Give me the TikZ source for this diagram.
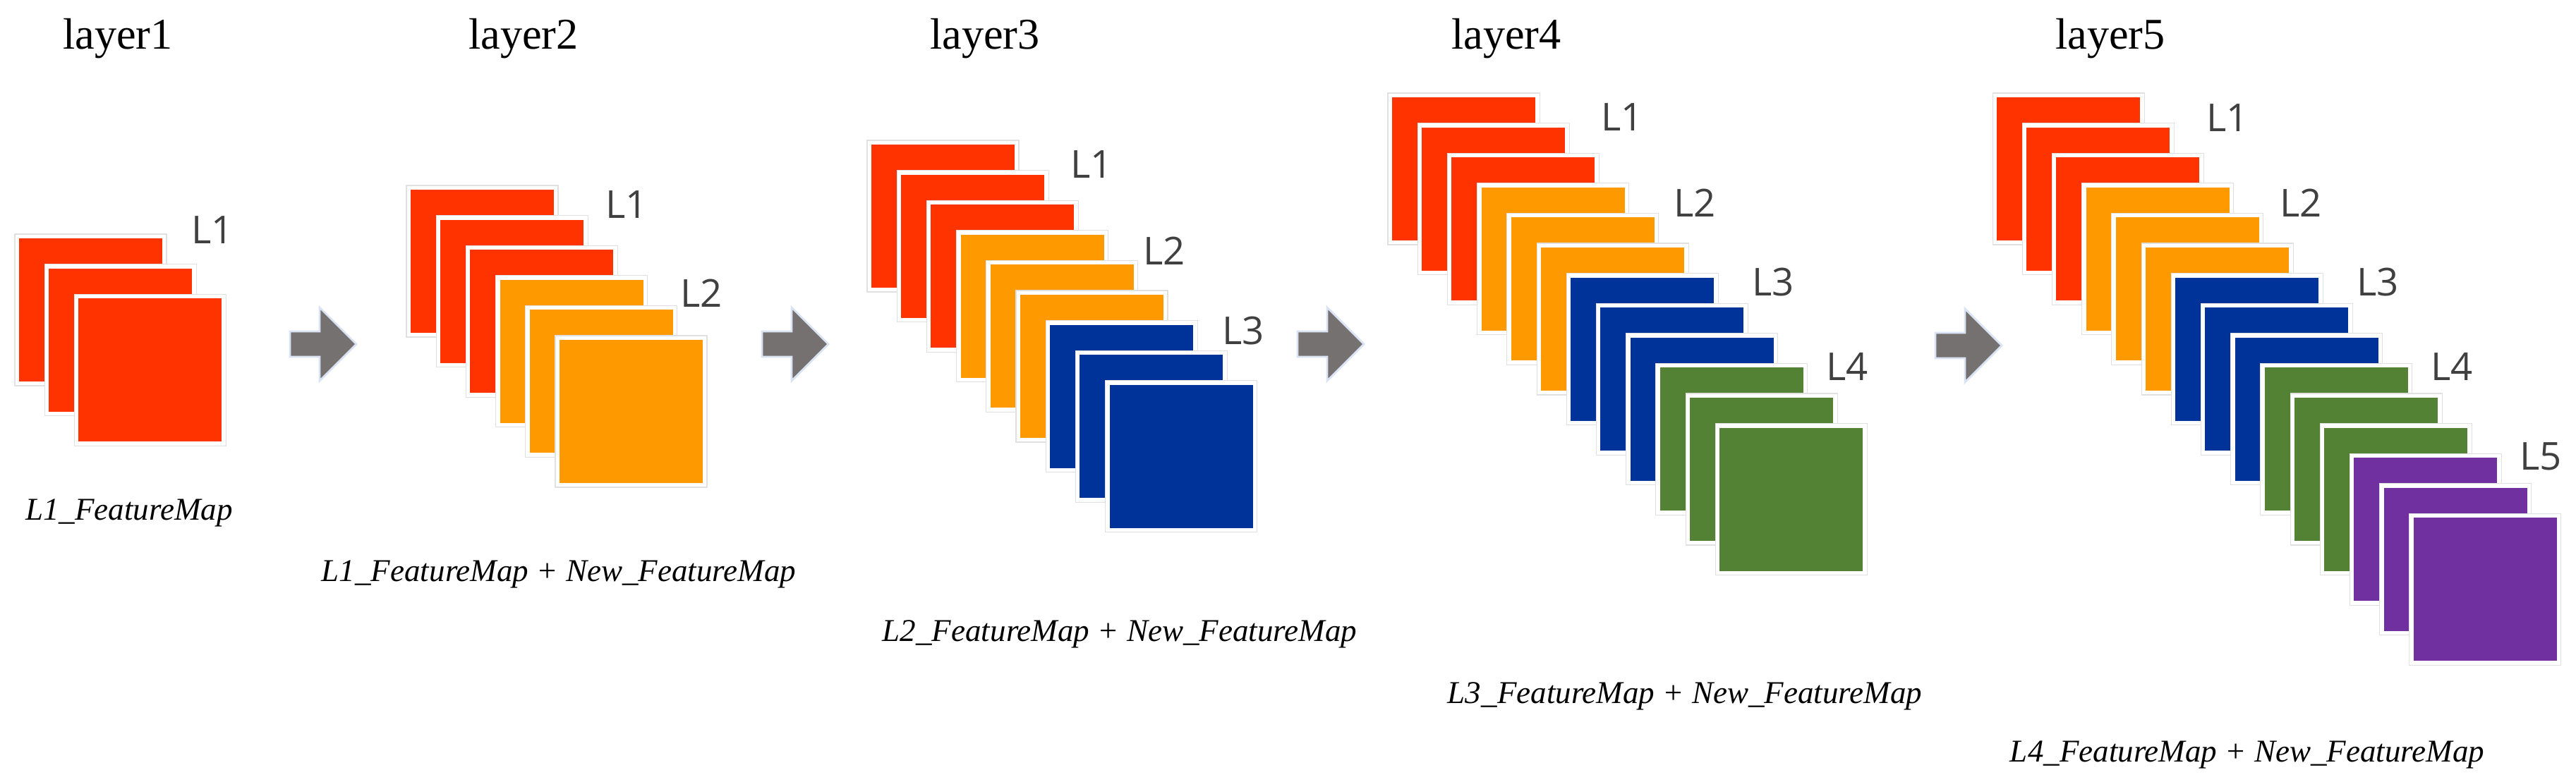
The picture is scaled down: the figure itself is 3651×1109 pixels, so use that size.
\documentclass[tikz,border=0pt]{standalone}
\usepackage{fontspec}
\setmainfont{Liberation Serif}
\newfontfamily\lsans{Open Sans}
\definecolor{cR}{HTML}{FF3300}
\definecolor{cO}{HTML}{FF9900}
\definecolor{cB}{HTML}{003399}
\definecolor{cG}{HTML}{548235}
\definecolor{cP}{HTML}{7030A0}
\definecolor{arr}{HTML}{767171}
\definecolor{arrE}{HTML}{DAE3F3}
\definecolor{lab}{HTML}{404040}
\begin{document}
\begin{tikzpicture}[x=0.01cm,y=-0.01cm,
  title/.style={font=\fontsize{17.7}{20}\selectfont},
  fmcap/.style={font=\itshape\fontsize{12.8}{15}\selectfont},
  lbl/.style={font=\lsans\fontsize{15.5}{18}\selectfont,text=lab},
  arrw/.style={fill=arr,draw=arrE,line width=0.8pt,line join=miter}]
\useasboundingbox (0,0) rectangle (3651,1109);
\newcommand\fmgroup[3]{%
  \foreach \c [count=\i from 0] in {#3}{
    \path[fill=white,draw=black!12,line width=0.3pt] ({#1+42.2*\i-2},{#2+42.6*\i-2}) rectangle ++(215,215);
    \fill[\c] ({#1+42.2*\i+4},{#2+42.6*\i+4}) rectangle ++(203,203);
  }}
\newcommand\farrow[2]{%
  \draw[arrw] (#1,#2-18) -- (#1+42,#2-18) -- (#1+42,#2-52) -- (#1+94,#2) -- (#1+42,#2+52) -- (#1+42,#2+18) -- (#1,#2+18) -- cycle;}
% layer1
\node[title] (t1) at (167,55) {layer1};
\fmgroup{23}{334}{cR,cR,cR}
\node[lbl] (l11) at (301,326) {L1};
\node[fmcap] (c1) at (183,727) {L1\_FeatureMap};
\farrow{411}{488}
% layer2
\node[title] (t2) at (742,55) {layer2};
\fmgroup{578}{265}{cR,cR,cR,cO,cO,cO}
\node[lbl] (l21) at (888,290) {L1};
\node[lbl] (l22) at (994,416) {L2};
\node[fmcap] (c2) at (792,814) {L1\_FeatureMap + New\_FeatureMap};
\farrow{1080}{488}
% layer3
\node[title] (t3) at (1396,55) {layer3};
\fmgroup{1231}{201}{cR,cR,cR,cO,cO,cO,cB,cB,cB}
\node[lbl] (l31) at (1547,233) {L1};
\node[lbl] (l32) at (1650,356) {L2};
\node[lbl] (l33) at (1762,469) {L3};
\node[fmcap] (c3) at (1587,899) {L2\_FeatureMap + New\_FeatureMap};
\farrow{1839}{488}
% layer4
\node[title] (t4) at (2135,55) {layer4};
\fmgroup{1969}{134}{cR,cR,cR,cO,cO,cO,cB,cB,cB,cG,cG,cG}
\node[lbl] (l41) at (2299,166) {L1};
\node[lbl] (l42) at (2402,288) {L2};
\node[lbl] (l43) at (2513,400) {L3};
\node[lbl] (l44) at (2618,520) {L4};
\node[fmcap] (c4) at (2388,987) {L3\_FeatureMap + New\_FeatureMap};
\farrow{2743}{490}
% layer5
\node[title] (t5) at (2991,55) {layer5};
\fmgroup{2826}{134}{cR,cR,cR,cO,cO,cO,cB,cB,cB,cG,cG,cG,cP,cP,cP}
\node[lbl] (l51) at (3157,167) {L1};
\node[lbl] (l52) at (3261,288) {L2};
\node[lbl] (l53) at (3370,400) {L3};
\node[lbl] (l54) at (3475,520) {L4};
\node[lbl] (l55) at (3601,647) {L5};
\node[fmcap] (c5) at (3185,1070) {L4\_FeatureMap + New\_FeatureMap};
\end{tikzpicture}
\end{document}
